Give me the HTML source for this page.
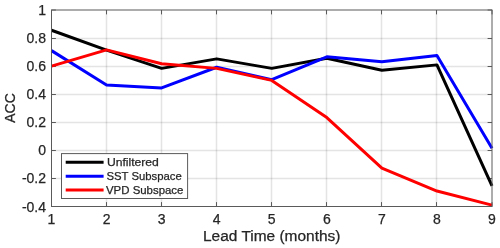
<!DOCTYPE html>
<html><head><meta charset="utf-8"><style>
html,body{margin:0;padding:0;background:#fff;width:500px;height:248px;overflow:hidden}
svg{display:block;will-change:transform}
text{font-family:"Liberation Sans",sans-serif;fill:#262626;stroke:#262626;stroke-width:0.25px}
.tk{font-size:14px}
.al{font-size:14px}
.lg{font-size:11.7px}
</style></head><body>
<svg width="500" height="248" viewBox="0 0 500 248">
<line x1="106.50" y1="10.0" x2="106.50" y2="206.5" stroke="#262626" stroke-opacity="0.125" stroke-width="1.5"/>
<line x1="161.50" y1="10.0" x2="161.50" y2="206.5" stroke="#262626" stroke-opacity="0.125" stroke-width="1.5"/>
<line x1="216.50" y1="10.0" x2="216.50" y2="206.5" stroke="#262626" stroke-opacity="0.125" stroke-width="1.5"/>
<line x1="271.50" y1="10.0" x2="271.50" y2="206.5" stroke="#262626" stroke-opacity="0.125" stroke-width="1.5"/>
<line x1="326.50" y1="10.0" x2="326.50" y2="206.5" stroke="#262626" stroke-opacity="0.125" stroke-width="1.5"/>
<line x1="381.50" y1="10.0" x2="381.50" y2="206.5" stroke="#262626" stroke-opacity="0.125" stroke-width="1.5"/>
<line x1="436.50" y1="10.0" x2="436.50" y2="206.5" stroke="#262626" stroke-opacity="0.125" stroke-width="1.5"/>
<line x1="51.5" y1="38.50" x2="492.0" y2="38.50" stroke="#262626" stroke-opacity="0.125" stroke-width="1.5"/>
<line x1="51.5" y1="66.50" x2="492.0" y2="66.50" stroke="#262626" stroke-opacity="0.125" stroke-width="1.5"/>
<line x1="51.5" y1="94.50" x2="492.0" y2="94.50" stroke="#262626" stroke-opacity="0.125" stroke-width="1.5"/>
<line x1="51.5" y1="122.50" x2="492.0" y2="122.50" stroke="#262626" stroke-opacity="0.125" stroke-width="1.5"/>
<line x1="51.5" y1="150.50" x2="492.0" y2="150.50" stroke="#262626" stroke-opacity="0.125" stroke-width="1.5"/>
<line x1="51.5" y1="178.50" x2="492.0" y2="178.50" stroke="#262626" stroke-opacity="0.125" stroke-width="1.5"/>
<line x1="51.50" y1="206.5" x2="51.50" y2="202.1" stroke="#5a5a5a" stroke-width="1"/>
<line x1="51.50" y1="10.0" x2="51.50" y2="14.4" stroke="#5a5a5a" stroke-width="1"/>
<line x1="106.50" y1="206.5" x2="106.50" y2="202.1" stroke="#5a5a5a" stroke-width="1"/>
<line x1="106.50" y1="10.0" x2="106.50" y2="14.4" stroke="#5a5a5a" stroke-width="1"/>
<line x1="161.50" y1="206.5" x2="161.50" y2="202.1" stroke="#5a5a5a" stroke-width="1"/>
<line x1="161.50" y1="10.0" x2="161.50" y2="14.4" stroke="#5a5a5a" stroke-width="1"/>
<line x1="216.50" y1="206.5" x2="216.50" y2="202.1" stroke="#5a5a5a" stroke-width="1"/>
<line x1="216.50" y1="10.0" x2="216.50" y2="14.4" stroke="#5a5a5a" stroke-width="1"/>
<line x1="271.50" y1="206.5" x2="271.50" y2="202.1" stroke="#5a5a5a" stroke-width="1"/>
<line x1="271.50" y1="10.0" x2="271.50" y2="14.4" stroke="#5a5a5a" stroke-width="1"/>
<line x1="326.50" y1="206.5" x2="326.50" y2="202.1" stroke="#5a5a5a" stroke-width="1"/>
<line x1="326.50" y1="10.0" x2="326.50" y2="14.4" stroke="#5a5a5a" stroke-width="1"/>
<line x1="381.50" y1="206.5" x2="381.50" y2="202.1" stroke="#5a5a5a" stroke-width="1"/>
<line x1="381.50" y1="10.0" x2="381.50" y2="14.4" stroke="#5a5a5a" stroke-width="1"/>
<line x1="436.50" y1="206.5" x2="436.50" y2="202.1" stroke="#5a5a5a" stroke-width="1"/>
<line x1="436.50" y1="10.0" x2="436.50" y2="14.4" stroke="#5a5a5a" stroke-width="1"/>
<line x1="492.00" y1="206.5" x2="492.00" y2="202.1" stroke="#5a5a5a" stroke-width="1"/>
<line x1="492.00" y1="10.0" x2="492.00" y2="14.4" stroke="#5a5a5a" stroke-width="1"/>
<line x1="51.5" y1="10.00" x2="55.9" y2="10.00" stroke="#5a5a5a" stroke-width="1"/>
<line x1="492.0" y1="10.00" x2="487.6" y2="10.00" stroke="#5a5a5a" stroke-width="1"/>
<line x1="51.5" y1="38.50" x2="55.9" y2="38.50" stroke="#5a5a5a" stroke-width="1"/>
<line x1="492.0" y1="38.50" x2="487.6" y2="38.50" stroke="#5a5a5a" stroke-width="1"/>
<line x1="51.5" y1="66.50" x2="55.9" y2="66.50" stroke="#5a5a5a" stroke-width="1"/>
<line x1="492.0" y1="66.50" x2="487.6" y2="66.50" stroke="#5a5a5a" stroke-width="1"/>
<line x1="51.5" y1="94.50" x2="55.9" y2="94.50" stroke="#5a5a5a" stroke-width="1"/>
<line x1="492.0" y1="94.50" x2="487.6" y2="94.50" stroke="#5a5a5a" stroke-width="1"/>
<line x1="51.5" y1="122.50" x2="55.9" y2="122.50" stroke="#5a5a5a" stroke-width="1"/>
<line x1="492.0" y1="122.50" x2="487.6" y2="122.50" stroke="#5a5a5a" stroke-width="1"/>
<line x1="51.5" y1="150.50" x2="55.9" y2="150.50" stroke="#5a5a5a" stroke-width="1"/>
<line x1="492.0" y1="150.50" x2="487.6" y2="150.50" stroke="#5a5a5a" stroke-width="1"/>
<line x1="51.5" y1="178.50" x2="55.9" y2="178.50" stroke="#5a5a5a" stroke-width="1"/>
<line x1="492.0" y1="178.50" x2="487.6" y2="178.50" stroke="#5a5a5a" stroke-width="1"/>
<line x1="51.5" y1="206.50" x2="55.9" y2="206.50" stroke="#5a5a5a" stroke-width="1"/>
<line x1="492.0" y1="206.50" x2="487.6" y2="206.50" stroke="#5a5a5a" stroke-width="1"/>
<polyline points="51.50,30.22 106.56,50.20 161.62,68.37 216.69,58.87 271.75,68.37 326.81,58.17 381.88,70.19 436.94,64.88 492.00,185.90" fill="none" stroke="#000000" stroke-width="3.0" stroke-linejoin="round" stroke-linecap="butt"/>
<polyline points="51.50,50.62 106.56,85.00 161.62,87.93 216.69,67.25 271.75,79.69 326.81,56.77 381.88,61.80 436.94,55.51 492.00,148.16" fill="none" stroke="#0000ff" stroke-width="3.0" stroke-linejoin="round" stroke-linecap="butt"/>
<polyline points="51.50,66.13 106.56,49.92 161.62,63.76 216.69,68.37 271.75,80.39 326.81,117.56 381.88,168.15 436.94,191.07 492.00,205.10" fill="none" stroke="#ff0000" stroke-width="3.0" stroke-linejoin="round" stroke-linecap="butt"/>
<rect x="51.5" y="10.0" width="440.5" height="196.5" fill="none" stroke="#5a5a5a" stroke-width="1"/>
<rect x="61.5" y="153.6" width="126.1" height="44.900000000000006" fill="#fff" stroke="#5a5a5a" stroke-width="1"/>
<line x1="65.7" y1="162.3" x2="103.6" y2="162.3" stroke="#000000" stroke-width="3.0"/>
<text x="106.9" y="166.3" class="lg" textLength="52.0" lengthAdjust="spacingAndGlyphs">Unfiltered</text>
<line x1="65.7" y1="176.2" x2="103.6" y2="176.2" stroke="#0000ff" stroke-width="3.0"/>
<text x="106.5" y="180.2" class="lg" textLength="75.3" lengthAdjust="spacingAndGlyphs">SST Subspace</text>
<line x1="65.7" y1="190.0" x2="103.6" y2="190.0" stroke="#ff0000" stroke-width="3.0"/>
<text x="106.0" y="194.0" class="lg" textLength="77.4" lengthAdjust="spacingAndGlyphs">VPD Subspace</text>
<text x="51.50" y="224.2" class="tk" text-anchor="middle">1</text>
<text x="106.56" y="224.2" class="tk" text-anchor="middle">2</text>
<text x="161.62" y="224.2" class="tk" text-anchor="middle">3</text>
<text x="216.69" y="224.2" class="tk" text-anchor="middle">4</text>
<text x="271.75" y="224.2" class="tk" text-anchor="middle">5</text>
<text x="326.81" y="224.2" class="tk" text-anchor="middle">6</text>
<text x="381.88" y="224.2" class="tk" text-anchor="middle">7</text>
<text x="436.94" y="224.2" class="tk" text-anchor="middle">8</text>
<text x="492.00" y="224.2" class="tk" text-anchor="middle">9</text>
<text x="46" y="15.00" class="tk" text-anchor="end">1</text>
<text x="46" y="43.07" class="tk" text-anchor="end">0.8</text>
<text x="46" y="71.14" class="tk" text-anchor="end">0.6</text>
<text x="46" y="99.21" class="tk" text-anchor="end">0.4</text>
<text x="46" y="127.29" class="tk" text-anchor="end">0.2</text>
<text x="46" y="155.36" class="tk" text-anchor="end">0</text>
<text x="46" y="183.43" class="tk" text-anchor="end">-0.2</text>
<text x="46" y="211.50" class="tk" text-anchor="end">-0.4</text>
<text x="203.0" y="241" class="al" textLength="137.4" lengthAdjust="spacingAndGlyphs">Lead Time (months)</text>
<text transform="translate(15.3,108) rotate(-90)" x="0" y="0" class="al" text-anchor="middle">ACC</text>
</svg>
</body></html>
